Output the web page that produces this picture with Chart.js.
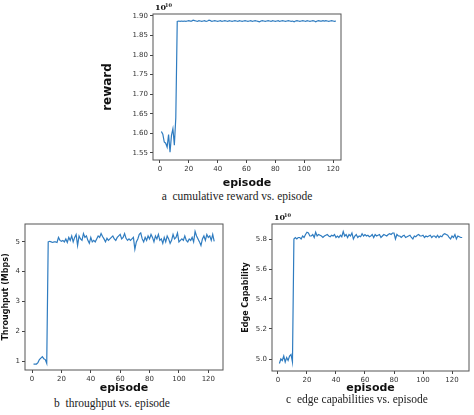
<!DOCTYPE html>
<html><head><meta charset="utf-8">
<script src="https://cdn.jsdelivr.net/npm/chart.js@4"></script>
<style>
body{margin:0;background:#fff;width:474px;height:415px;position:relative;overflow:hidden}
.c{position:absolute}
.cap{position:absolute;font-family:"Liberation Serif","DejaVu Serif",serif;font-size:11.5px;color:#222;white-space:nowrap;transform:translateX(-50%)}
</style></head><body>
<div class="c" style="left:100px;top:0;width:250px;height:190px"><canvas id="ca"></canvas></div>
<div class="c" style="left:0;top:210px;width:240px;height:185px"><canvas id="cb"></canvas></div>
<div class="c" style="left:240px;top:210px;width:234px;height:185px"><canvas id="cc"></canvas></div>
<div class="cap" style="left:237px;top:190px">a&nbsp; cumulative reward vs. episode</div>
<div class="cap" style="left:112px;top:397px">b&nbsp; throughput vs. episode</div>
<div class="cap" style="left:357px;top:393px">c&nbsp; edge capabilities vs. episode</div>
<script>
const rewardVals = [1.605,1.598,1.578,1.575,1.565,1.597,1.552,1.595,1.612,1.570,1.640,1.886,
1.887,1.886,1.887,1.886,1.887,1.886,1.887,1.888,1.887,1.887,1.889,1.888,1.887,1.886,1.888,1.887,1.886,1.887,
1.888,1.886,1.887,1.889,1.888,1.886,1.887,1.888,1.887,1.886,1.887,1.888,1.886,1.887,1.888,1.887,1.886,1.888,
1.887,1.886,1.887,1.888,1.887,1.886,1.888,1.887,1.886,1.887,1.888,1.887,1.886,1.887,1.888,1.886,1.887,1.888,
1.887,1.886,1.885,1.887,1.888,1.887,1.886,1.887,1.888,1.887,1.886,1.888,1.887,1.886,1.887,1.888,1.886,1.887,
1.888,1.887,1.886,1.887,1.888,1.887,1.886,1.887,1.885,1.887,1.888,1.887,1.886,1.887,1.888,1.887,1.886,1.888,
1.887,1.886,1.887,1.888,1.887,1.885,1.887,1.888,1.887,1.887,1.888,1.887,1.888,1.887,1.886,1.887,1.888,1.887,
1.886,1.887];
const throughputVals = [0.90,0.90,0.90,0.95,1.05,1.10,1.15,1.08,1.05,0.92,5.00,5.02,5.00,4.98,5.00,5.00,4.98,5.15,5.05,5.02,
5.05,5.00,5.10,4.98,5.15,5.05,5.20,5.00,5.15,5.25,4.88,5.20,5.10,5.05,5.28,5.15,5.20,5.05,4.95,5.15,
5.00,5.05,5.00,5.10,5.20,5.15,5.28,5.18,5.10,5.00,5.12,5.05,5.10,5.15,5.20,5.10,5.05,5.15,5.20,5.25,
5.10,5.15,5.28,5.12,5.05,5.10,5.05,5.10,5.15,4.75,5.00,5.10,5.25,5.30,5.10,5.00,5.15,5.05,5.20,5.10,
5.25,5.15,5.00,5.20,5.10,5.25,5.05,5.10,4.95,5.15,5.00,5.20,5.10,4.95,5.05,5.25,5.10,5.15,5.30,5.00,
5.05,5.10,5.05,5.20,5.05,5.00,5.10,5.05,5.15,5.00,5.35,5.20,5.10,5.00,4.88,5.10,5.20,5.05,5.25,5.15,
5.20,5.05,5.25,5.02];
const edgeVals = [4.97,5.00,4.99,5.02,4.98,5.01,4.99,5.02,5.03,4.98,5.80,5.81,5.80,5.81,5.81,5.80,5.82,5.81,5.83,5.845,
5.84,5.82,5.82,5.83,5.81,5.845,5.82,5.83,5.825,5.82,5.81,5.82,5.825,5.83,5.82,5.815,5.825,5.82,5.83,5.81,
5.82,5.81,5.825,5.815,5.85,5.82,5.83,5.81,5.83,5.82,5.84,5.80,5.82,5.83,5.81,5.82,5.815,5.835,5.82,5.83,
5.82,5.825,5.815,5.82,5.83,5.81,5.83,5.82,5.825,5.83,5.81,5.82,5.83,5.825,5.82,5.83,5.835,5.83,5.84,5.84,
5.80,5.83,5.82,5.82,5.81,5.82,5.825,5.81,5.815,5.82,5.825,5.81,5.80,5.82,5.815,5.825,5.83,5.82,5.82,5.825,
5.81,5.82,5.815,5.82,5.825,5.81,5.82,5.82,5.81,5.825,5.81,5.82,5.815,5.83,5.835,5.83,5.825,5.81,5.80,5.82,
5.81,5.83,5.80,5.82,5.815,5.81,5.81];
const xTicks = [0,20,40,60,80,100,120];

const frame = {id:'frame',afterDraw(ch,a,o){const c=ch.ctx,ar=ch.chartArea;c.save();c.strokeStyle='#555';c.lineWidth=1;
c.strokeRect(ar.left,ar.top,ar.right-ar.left,ar.bottom-ar.top);
if(o.exp){c.fillStyle='#111';c.font='bold 8px "DejaVu Serif",serif';c.textBaseline='bottom';c.fillText('10',ar.left+2,ar.top-2);
c.font='bold 5px "DejaVu Serif",serif';c.fillText('10',ar.left+12,ar.top-6);}c.restore();}};

function mk(id, vals, o){
  const pts = vals.map((v,i)=>({x:i+1,y:v}));
  new Chart(document.getElementById(id),{type:'line',
    data:{datasets:[{data:pts,borderColor:'#2f7cc0',borderWidth:1.2,pointRadius:0,tension:0}]},
    plugins:[frame],
    options:{responsive:true,maintainAspectRatio:false,animation:false,
      layout:{padding:{top:14,right:o.pr,left:0,bottom:0}},
      plugins:{legend:{display:false},tooltip:{enabled:false},frame:{exp:o.exp}},
      scales:{
        x:{type:'linear',min:o.xmin,max:o.xmax,
          afterBuildTicks(s){s.ticks=xTicks.map(v=>({value:v}));},
          afterFit(s){s.height=o.xh;},
          ticks:{font:{size:7,family:'DejaVu Sans'},color:'#333',padding:2,maxRotation:0},
          grid:{drawOnChartArea:false,tickLength:3,color:'#444'},border:{display:false},
          title:{display:true,text:'episode',font:{size:o.xt,weight:'bold',family:'DejaVu Sans'},color:'#111',padding:0}},
        y:{min:o.ymin,max:o.ymax,
          afterBuildTicks(s){s.ticks=o.yt.map(v=>({value:v}));},
          afterFit(s){s.width=o.yw;},
          ticks:{font:{size:7,family:'DejaVu Sans'},color:'#333',padding:2,callback:o.fmt},
          grid:{drawOnChartArea:false,tickLength:3,color:'#444'},border:{display:false},
          title:{display:true,text:o.ytitle,font:{size:o.ytf,weight:'bold',family:'DejaVu Sans'},color:'#111',padding:1}}
      }}});
}
mk('ca',rewardVals,{pr:9,xh:30,yw:53,xmin:-4.8,xmax:125.5,ymin:1.532,ymax:1.905,
  yt:[1.55,1.60,1.65,1.70,1.75,1.80,1.85,1.90],fmt:v=>v.toFixed(2),ytitle:'reward',ytf:12,xt:11,exp:true});
mk('cb',throughputVals,{pr:17,xh:25,yw:25,xmin:-4.8,xmax:130,ymin:0.7,ymax:5.6,
  yt:[1,2,3,4,5],fmt:v=>v,ytitle:'Throughput (Mbps)',ytf:8,xt:11,exp:false});
mk('cc',edgeVals,{pr:5,xh:24,yw:32,xmin:-4.1,xmax:131.7,ymin:4.92,ymax:5.9,
  yt:[5.0,5.2,5.4,5.6,5.8],fmt:v=>v.toFixed(1),ytitle:'Edge Capability',ytf:8,xt:11,exp:true});
</script></body></html>
